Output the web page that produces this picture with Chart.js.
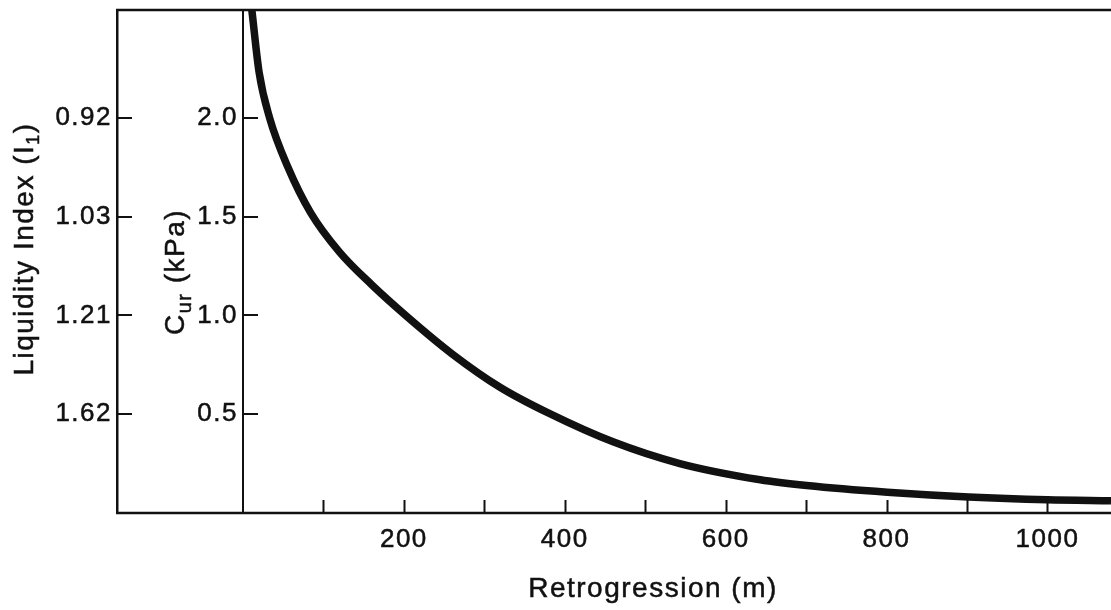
<!DOCTYPE html>
<html>
<head>
<meta charset="utf-8">
<script src="https://cdn.jsdelivr.net/npm/chart.js@4"></script>
<style>
  html, body { margin: 0; padding: 0; background: #fff; }
  canvas { display: block; }
</style>
</head>
<body>
<canvas id="retro" width="1111" height="610"></canvas>
<script>
// retrogression distance (m) and remoulded strength C_ur (kPa)
const retroX = [11, 20, 33, 56, 84, 120, 160, 205, 260, 320, 380, 460, 543, 643, 701, 801, 902, 1000, 1079];
const curY = [2.545, 2.23, 2.0, 1.748, 1.52, 1.32, 1.155, 0.99, 0.805, 0.635, 0.505, 0.36, 0.25, 0.168, 0.139, 0.105, 0.081, 0.067, 0.062];

// bottom axis ticks
const xTickValues = [100, 200, 300, 400, 500, 600, 700, 800, 900, 1000];
const xTickLabels = ["", "200", "", "400", "", "600", "", "800", "", "1000"];

// left axes: C_ur ticks and the matching liquidity index
const curTicks = [0.5, 1.0, 1.5, 2.0];
const curTickLabels = ["0.5", "1.0", "1.5", "2.0"];
const liTickLabels = ["1.62", "1.21", "1.03", "0.92"];

const ink = "#111111";
const fontFamily = "'Liberation Sans', Arial, Helvetica, sans-serif";

function setSpacing(chart) {
  chart.ctx.letterSpacing = "1.5px";
}

// draw a text made of parts (for subscripts), centred on (x, y), optionally rotated
function drawRich(ctx, parts, x, y, angle) {
  ctx.save();
  ctx.translate(x, y);
  ctx.rotate(angle);
  ctx.fillStyle = ink;
  ctx.strokeStyle = ink;
  ctx.lineWidth = 0.5;
  ctx.textBaseline = "alphabetic";
  ctx.textAlign = "left";
  let total = 0;
  parts.forEach(p => {
    ctx.font = p.size + "px " + fontFamily;
    p.w = ctx.measureText(p.t).width;
    total += p.w;
  });
  let cx = -total / 2;
  parts.forEach(p => {
    ctx.font = p.size + "px " + fontFamily;
    ctx.fillText(p.t, cx, p.dy || 0);
    ctx.strokeText(p.t, cx, p.dy || 0);
    cx += p.w;
  });
  ctx.restore();
}

const frame = {
  id: "frame",
  beforeUpdate: setSpacing,
  beforeDraw: setSpacing,
  afterDraw(chart) {
    const {ctx, chartArea, scales} = chart;
    const boxLeft = scales.y2.right;
    ctx.save();
    ctx.strokeStyle = ink;
    ctx.lineCap = "butt";

    // top and bottom of the box
    ctx.lineWidth = 2.5;
    ctx.beginPath();
    ctx.moveTo(boxLeft - 1, chartArea.top);
    ctx.lineTo(chartArea.right, chartArea.top);
    ctx.moveTo(boxLeft - 1, chartArea.bottom);
    ctx.lineTo(chartArea.right, chartArea.bottom);
    ctx.stroke();

    // ticks pointing into the plot
    ctx.lineWidth = 2;
    ctx.beginPath();
    scales.x.ticks.forEach(t => {
      const px = Math.round(scales.x.getPixelForValue(t.value)) + 0.5;
      ctx.moveTo(px, chartArea.bottom);
      ctx.lineTo(px, chartArea.bottom - 13);
    });
    scales.y.ticks.forEach(t => {
      const py = Math.round(scales.y.getPixelForValue(t.value));
      ctx.moveTo(scales.y.right, py);
      ctx.lineTo(scales.y.right + 15, py);
    });
    scales.y2.ticks.forEach(t => {
      const py = Math.round(scales.y2.getPixelForValue(t.value));
      ctx.moveTo(scales.y2.right, py);
      ctx.lineTo(scales.y2.right + 15, py);
    });
    ctx.stroke();
    ctx.restore();

    // axis titles
    drawRich(ctx, [
      {t: "Liquidity Index (I", size: 28},
      {t: "1", size: 18, dy: 6},
      {t: ")", size: 28}
    ], 33, 249, -Math.PI / 2);
    drawRich(ctx, [
      {t: "C", size: 28},
      {t: "ur", size: 20, dy: 7},
      {t: " (kPa)", size: 28}
    ], 184, 272, -Math.PI / 2);
    drawRich(ctx, [{t: "Retrogression (m)", size: 28}], 653, 597, 0);
  }
};

const tickFont = {family: fontFamily, size: 26};

new Chart(document.getElementById("retro"), {
  type: "line",
  data: {
    datasets: [
      {
        data: retroX.map((x, i) => ({x: x, y: curY[i]})),
        borderColor: ink,
        borderWidth: 7.5,
        pointRadius: 0,
        fill: false,
        cubicInterpolationMode: "monotone",
        xAxisID: "x",
        yAxisID: "y",
      },
    ],
  },
  options: {
    responsive: false,
    animation: false,
    devicePixelRatio: 1,
    layout: {
      padding: {top: 10, right: 0, bottom: 0, left: 0},
    },
    plugins: {
      legend: {display: false},
      tooltip: {enabled: false},
    },
    scales: {
      x: {
        type: "linear",
        position: "bottom",
        min: 0,
        max: 1079,
        grid: {display: false},
        border: {display: false},
        ticks: {
          autoSkip: false,
          maxRotation: 0,
          padding: 3,
          color: ink,
          textStrokeColor: ink,
          textStrokeWidth: 0.5,
          font: tickFont,
          callback: (v, i) => xTickLabels[i],
        },
        afterBuildTicks: s => { s.ticks = xTickValues.map(v => ({value: v})); },
        afterFit: s => { s.height = 97; s.paddingLeft = 0; s.paddingRight = 0; },
      },
      y: {
        type: "linear",
        position: "left",
        weight: 0,
        min: 0,
        max: 2.545,
        grid: {display: false, drawTicks: false},
        border: {display: true, color: ink, width: 2},
        ticks: {
          padding: 5,
          color: ink,
          textStrokeColor: ink,
          textStrokeWidth: 0.5,
          font: tickFont,
          callback: (v, i) => curTickLabels[i],
        },
        afterBuildTicks: s => { s.ticks = curTicks.map(v => ({value: v})); },
        afterFit: s => { s.width = 126; s.paddingTop = 0; s.paddingBottom = 0; },
      },
      y2: {
        type: "linear",
        position: "left",
        weight: 1,
        min: 0,
        max: 2.545,
        grid: {display: false, drawTicks: false},
        border: {display: true, color: ink, width: 2.5},
        ticks: {
          padding: 5,
          color: ink,
          textStrokeColor: ink,
          textStrokeWidth: 0.5,
          font: tickFont,
          callback: (v, i) => liTickLabels[i],
        },
        afterBuildTicks: s => { s.ticks = curTicks.map(v => ({value: v})); },
        afterFit: s => { s.width = 117; s.paddingTop = 0; s.paddingBottom = 0; },
      },
    },
  },
  plugins: [frame],
});
</script>
</body>
</html>
